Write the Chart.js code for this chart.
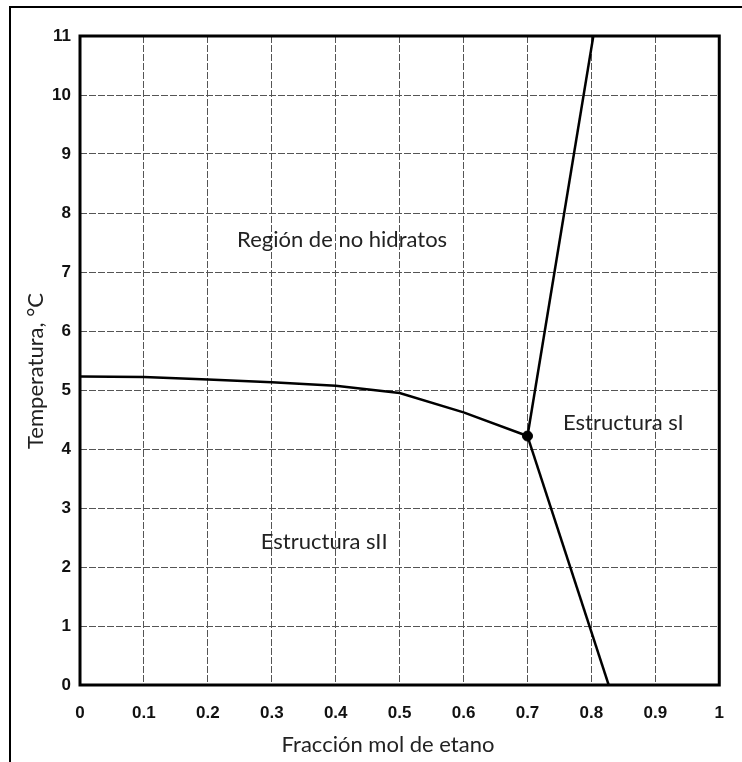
<!DOCTYPE html>
<html>
<head>
<meta charset="utf-8">
<script src="https://cdn.jsdelivr.net/npm/chart.js@4.4.1/dist/chart.umd.min.js"></script>
<style>
  html, body { margin: 0; padding: 0; background: #fff; }
  #wrap { position: relative; width: 742px; height: 762px; }
</style>
</head>
<body>
<div id="wrap"><canvas id="c" width="742" height="762"></canvas></div>
<script>
// Phase diagram: hydrate structures of the methane–ethane system
const xTickLabels = ['0', '0.1', '0.2', '0.3', '0.4', '0.5', '0.6', '0.7', '0.8', '0.9', '1'];
const yTickLabels = ['0', '1', '2', '3', '4', '5', '6', '7', '8', '9', '10', '11'];

// sII / no-hydrate boundary
const curveX = [0, 0.1, 0.2, 0.3, 0.4, 0.5, 0.6, 0.7];
const curveT = [5.23, 5.22, 5.18, 5.13, 5.07, 4.95, 4.62, 4.22];

// sI / no-hydrate boundary (upper branch)
const upperX = [0.7, 0.803];
const upperT = [4.22, 11];

// sI / sII boundary (lower branch)
const lowerX = [0.7, 0.827];
const lowerT = [4.22, 0];

// quadruple point
const pointX = [0.7];
const pointT = [4.22];

const regionLabels = ['Región de no hidratos', 'Estructura sI', 'Estructura sII'];
const regionX = [0.41, 0.85, 0.382];
const regionT = [7.54, 4.44, 2.43];

const xTitle = 'Fracción mol de etano';
const yTitle = 'Temperatura, °C';

const toPts = (xs, ys) => xs.map((x, i) => ({ x: x, y: ys[i] }));

const textFont = '22px Lato, "Open Sans", sans-serif';

const decorPlugin = {
  id: 'decor',
  beforeDraw(chart) {
    const ctx = chart.ctx;
    ctx.save();
    ctx.fillStyle = '#fff';
    ctx.fillRect(0, 0, chart.width, chart.height);
    ctx.restore();
  },
  afterDatasetsDraw(chart) {
    const ctx = chart.ctx;
    const a = chart.chartArea;
    const xs = chart.scales.x, ys = chart.scales.y;
    ctx.save();
    // plot frame
    ctx.strokeStyle = '#000';
    ctx.lineWidth = 3;
    ctx.strokeRect(a.left, a.top, a.right - a.left, a.bottom - a.top);
    // outer page frame
    ctx.lineWidth = 2;
    ctx.beginPath();
    ctx.moveTo(10, chart.height);
    ctx.lineTo(10, 7);
    ctx.lineTo(chart.width, 7);
    ctx.stroke();
    // region labels
    ctx.fillStyle = '#222';
    ctx.font = textFont;
    ctx.textAlign = 'center';
    ctx.textBaseline = 'middle';
    regionLabels.forEach((t, i) => {
      ctx.fillText(t, xs.getPixelForValue(regionX[i]), ys.getPixelForValue(regionT[i]));
    });
    // axis titles
    ctx.fillText(xTitle, 388, 745);
    ctx.translate(36, 371);
    ctx.rotate(-Math.PI / 2);
    ctx.fillText(yTitle, 0, 0);
    ctx.restore();
  }
};

const lineStyle = {
  showLine: true,
  borderColor: '#000',
  backgroundColor: '#000',
  borderWidth: 2.5,
  pointRadius: 0,
  tension: 0,
  fill: false
};

new Chart(document.getElementById('c'), {
  type: 'scatter',
  data: {
    datasets: [
      Object.assign({ label: 'sII', data: toPts(curveX, curveT) }, lineStyle),
      Object.assign({ label: 'sI superior', data: toPts(upperX, upperT) }, lineStyle),
      Object.assign({ label: 'sI inferior', data: toPts(lowerX, lowerT) }, lineStyle),
      { label: 'punto', data: toPts(pointX, pointT), showLine: false, pointRadius: 5,
        pointBackgroundColor: '#000', pointBorderColor: '#000' }
    ]
  },
  options: {
    responsive: false,
    animation: false,
    layout: { padding: { left: 0, right: 20, top: 36, bottom: 0 } },
    plugins: { legend: { display: false }, tooltip: { enabled: false } },
    scales: {
      x: {
        type: 'linear', min: 0, max: 1,
        afterFit(s) { s.height = 77; },
        afterBuildTicks(s) { s.ticks = xTickLabels.map(v => ({ value: parseFloat(v) })); },
        ticks: {
          autoSkip: false, maxRotation: 0, padding: 18,
          color: '#111',
          font: { family: '"Liberation Sans", Arial, sans-serif', size: 17, weight: 'bold' },
          callback: (v, i) => xTickLabels[i]
        },
        grid: { color: '#555', lineWidth: 1, drawTicks: false },
        border: { display: false, dash: [7, 2] }
      },
      y: {
        type: 'linear', min: 0, max: 11,
        afterFit(s) { s.width = 80; },
        afterBuildTicks(s) { s.ticks = yTickLabels.map(v => ({ value: parseFloat(v) })); },
        ticks: {
          autoSkip: false, padding: 9,
          color: '#111',
          font: { family: '"Liberation Sans", Arial, sans-serif', size: 17, weight: 'bold' },
          callback: (v, i) => yTickLabels[i]
        },
        grid: { color: '#555', lineWidth: 1, drawTicks: false },
        border: { display: false, dash: [7, 2] }
      }
    }
  },
  plugins: [decorPlugin]
});
</script>
</body>
</html>
